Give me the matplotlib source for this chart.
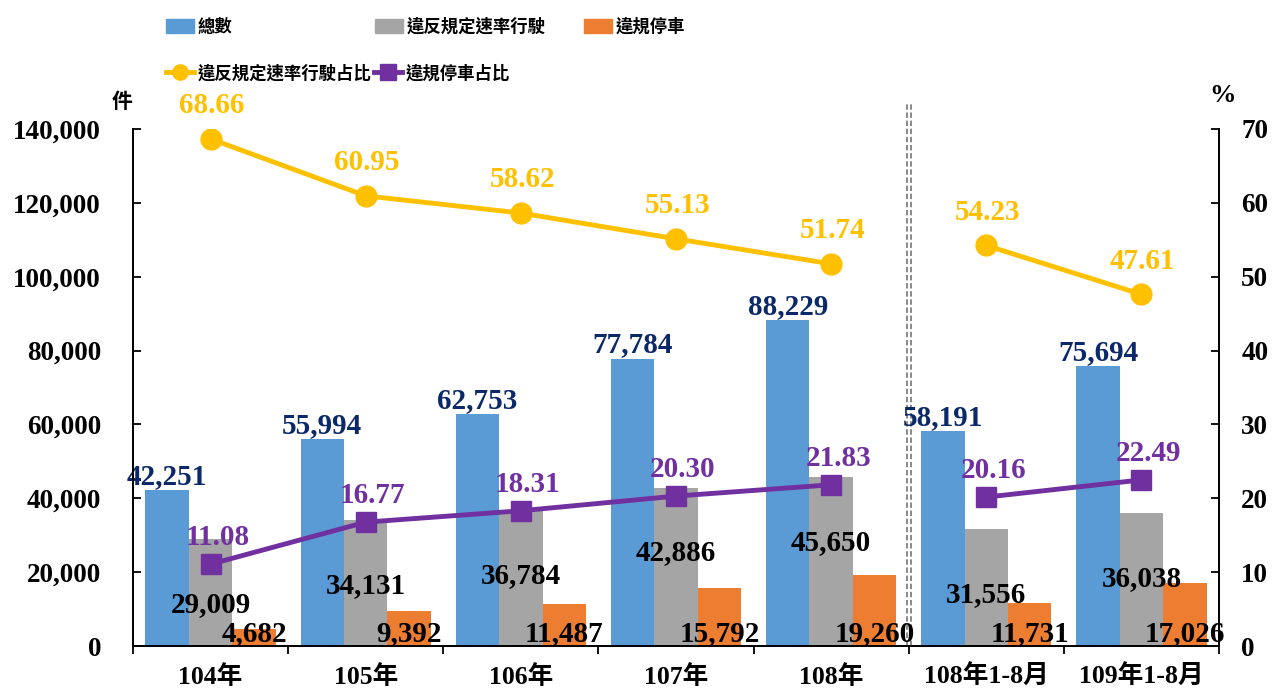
import matplotlib
matplotlib.use("Agg")
import numpy as np
import matplotlib.pyplot as plt
from matplotlib.lines import Line2D
from matplotlib.patches import Patch
from matplotlib.font_manager import FontProperties
from matplotlib.ticker import FuncFormatter

# data
categories = ["104年", "105年", "106年", "107年", "108年", "108年1-8月", "109年1-8月"]
total = [42251, 55994, 62753, 77784, 88229, 58191, 75694]
speeding = [29009, 34131, 36784, 42886, 45650, 31556, 36038]
parking = [4682, 9392, 11487, 15792, 19260, 11731, 17026]
speeding_pct = [68.66, 60.95, 58.62, 55.13, 51.74, 54.23, 47.61]
parking_pct = [11.08, 16.77, 18.31, 20.30, 21.83, 20.16, 22.49]

C_BLUE = "#5B9BD5"
C_GRAY = "#A5A5A5"
C_ORANGE = "#ED7D31"
C_YELLOW = "#FFC000"
C_PURPLE = "#7030A0"
C_NAVY = "#0B2868"

W, H = 1274, 689
num_font = FontProperties(family="Liberation Serif", weight="bold", size=21)
tick_font = FontProperties(family="Liberation Serif", weight="bold", size=19.5)
cat_font = FontProperties(family=["Liberation Serif", "Noto Sans CJK TC"], weight="bold", size=18.5)
leg_font = FontProperties(family=["Noto Sans CJK TC", "DejaVu Sans"], weight="bold", size=12.5)

fig = plt.figure(figsize=(W / 100, H / 100), dpi=100)
ax = fig.add_axes([133 / W, 1 - 646 / H, (1219 - 133) / W, (646 - 129) / H])
ax2 = ax.twinx()

x = np.arange(len(categories))
w = 0.28
ax.bar(x - w, total, w, color=C_BLUE, zorder=2)
ax.bar(x, speeding, w, color=C_GRAY, zorder=2)
ax.bar(x + w, parking, w, color=C_ORANGE, zorder=2)

ax.set_xlim(-0.5, len(categories) - 0.5)
ax.set_ylim(0, 140000)
ax.set_yticks(np.arange(0, 140001, 20000))
ax.yaxis.set_major_formatter(FuncFormatter(lambda v, p: f"{int(v):,}"))
ax2.set_ylim(0, 70)
ax2.set_yticks(np.arange(0, 71, 10))

# bar labels
for i in range(len(categories)):
    ax.annotate(f"{total[i]:,}", (x[i] - w, total[i]), xytext=(0, 10), textcoords="offset points",
                ha="center", va="center", color=C_NAVY, fontproperties=num_font, zorder=5)
    ax.annotate(f"{speeding[i]:,}", (x[i], speeding[i]), xytext=(0, -47), textcoords="offset points",
                ha="center", va="center", color="black", fontproperties=num_font, zorder=5)
    ax.annotate(f"{parking[i]:,}", (x[i] + w, 0), xytext=(0, 9), textcoords="offset points",
                ha="center", va="center", color="black", fontproperties=num_font, zorder=5)

# lines, broken between full years and Jan-Aug
for seg in (slice(0, 5), slice(5, 7)):
    ax2.plot(x[seg], speeding_pct[seg], color=C_YELLOW, lw=3.5, marker="o", ms=15, zorder=4)
    ax2.plot(x[seg], parking_pct[seg], color=C_PURPLE, lw=3.5, marker="s", ms=15, zorder=4)

for i in range(len(categories)):
    ax2.annotate(f"{speeding_pct[i]:.2f}", (x[i], speeding_pct[i]), xytext=(1, 24),
                 textcoords="offset points", ha="center", va="center",
                 color=C_YELLOW, fontproperties=num_font, zorder=6)
    ax2.annotate(f"{parking_pct[i]:.2f}", (x[i], parking_pct[i]), xytext=(5, 19),
                 textcoords="offset points", ha="center", va="center",
                 color=C_PURPLE, fontproperties=num_font, zorder=6)

# separator (double dashed)
for dx in (-0.012, 0.012):
    ax.plot([4.5 + dx, 4.5 + dx], [0, 1.05], transform=ax.get_xaxis_transform(),
            color="#808080", lw=1.3, ls=(0, (3, 1.5)), clip_on=False, zorder=3)

# axes styling
for a in (ax, ax2):
    a.spines["top"].set_visible(False)
    for s in ("left", "right", "bottom"):
        a.spines[s].set_linewidth(1.3)
ax.tick_params(axis="y", direction="in", length=6, width=1.3, pad=23)
ax2.tick_params(axis="y", direction="in", length=6, width=1.3, pad=16)
for lab in ax.get_yticklabels() + ax2.get_yticklabels():
    lab.set_fontproperties(tick_font)

ax.set_xticks(np.arange(-0.5, len(categories), 1.0))
ax.set_xticklabels([])
ax.tick_params(axis="x", direction="out", length=6, width=1.3)
for i, c in enumerate(categories):
    ax.text(x[i], -0.06, c, transform=ax.get_xaxis_transform(), ha="center", va="center",
            fontproperties=cat_font)

fig.text(122 / W, 1 - 101 / H, "件", ha="center", va="center",
         fontproperties=FontProperties(family="Noto Sans CJK TC", weight="bold", size=15))
fig.text(1222 / W, 1 - 95 / H, "%", ha="center", va="center",
         fontproperties=FontProperties(family="Liberation Serif", weight="bold", size=19))

# legend, one entry per slot to match the spacing of the original
legend_items = [
    (Patch(color=C_BLUE), "總數", 166, 27),
    (Patch(color=C_GRAY), "違反規定速率行駛", 375, 27),
    (Patch(color=C_ORANGE), "違規停車", 584, 27),
    (Line2D([], [], color=C_YELLOW, lw=3.5, marker="o", ms=11), "違反規定速率行駛占比", 166, 74),
    (Line2D([], [], color=C_PURPLE, lw=3.5, marker="s", ms=11), "違規停車占比", 374, 74),
]
for h, lab, px, py in legend_items:
    fig.legend(handles=[h], labels=[lab], loc="center left", bbox_to_anchor=(px / W, 1 - py / H),
               frameon=False, prop=leg_font, handlelength=1.6, handleheight=0.9,
               handletextpad=0.2, borderaxespad=0, borderpad=0)

fig.savefig("out.png", dpi=100)
